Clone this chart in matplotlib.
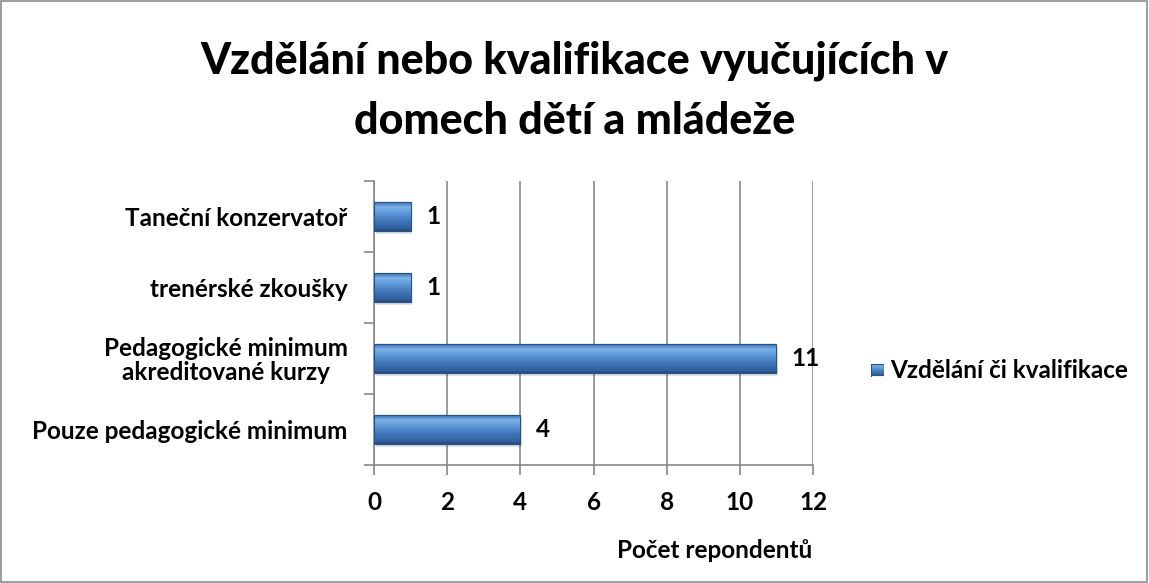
import numpy as np
import matplotlib
matplotlib.use("Agg")
import matplotlib.pyplot as plt
from matplotlib.colors import LinearSegmentedColormap
from matplotlib.patches import Rectangle

categories = ["Pouze pedagogické minimum", "Pedagogické minimum\nakreditované kurzy",
              "trenérské zkoušky", "Taneční konzervatoř"]
values = [4, 11, 1, 1]
series_name = "Vzdělání či kvalifikace"
title = "Vzdělání nebo kvalifikace vyučujících v\ndomech dětí a mládeže"
xlabel = "Počet repondentů"
xticks = [0, 2, 4, 6, 8, 10, 12]

plt.rcParams['font.family'] = ['Lato', 'DejaVu Sans']
plt.rcParams['font.weight'] = 'bold'

FS = 17.5

fig = plt.figure(figsize=(11.49, 5.83), dpi=100)
fig.patches.append(Rectangle((0.0005, 0.001), 0.998, 0.997, transform=fig.transFigure,
                             fill=False, edgecolor='#8c8c8c', linewidth=1.2))

ax = fig.add_axes([374/1149, 1-465/583, (813-374)/1149, (465-181)/583])

cmap = LinearSegmentedColormap.from_list("bev", [
    (0.0, "#22497a"), (0.08, "#2f5f9c"), (0.35, "#3f77bb"), (0.6, "#5e98d8"),
    (0.8, "#7cb1e8"), (0.9, "#5189ca"), (1.0, "#3a67a3")])

y = np.arange(len(categories))
bars = ax.barh(y, values, height=0.41, color="#4a7fc1", edgecolor="#2a5287",
               linewidth=0.8, zorder=3)
grad = np.linspace(0, 1, 256).reshape(-1, 1)
for b in bars:
    x0, y0 = b.get_x(), b.get_y()
    w, h = b.get_width(), b.get_height()
    ax.add_patch(Rectangle((x0 + 0.05, y0 - 0.04), w, h, facecolor='#000000', alpha=0.12,
                           edgecolor='none', zorder=2))
    im = ax.imshow(grad, cmap=cmap, aspect='auto', extent=(x0, x0 + w, y0, y0 + h),
                   origin='lower', zorder=3.5, interpolation='bilinear')
    im.set_clip_path(b)
    ax.add_patch(Rectangle((x0, y0), w, h, fill=False, edgecolor='#2a5287',
                           linewidth=0.8, zorder=4))

for yi, v in zip(y, values):
    ax.text(v + 0.42, yi, str(v), va='center', ha='left', fontsize=FS,
            fontweight='bold', color='black', zorder=5)

ax.set_xlim(0, 12)
ax.set_ylim(-0.5, len(categories) - 0.5)
ax.set_xticks(xticks)
ax.set_xticklabels([str(t) for t in xticks], fontsize=FS, fontweight='bold')
ax.set_yticks(y)
ax.set_yticklabels(categories, fontsize=FS, fontweight='bold', multialignment='center',
                   linespacing=1.05)
ax.set_yticks(np.arange(-0.5, len(categories)), minor=True)
ax.tick_params(axis='y', which='major', length=0, pad=19)
ax.tick_params(axis='y', which='minor', length=7, color='#878787', width=1.2)
ax.tick_params(axis='x', which='major', length=7, color='#878787', width=1.2, pad=12)
ax.grid(axis='x', color='#8a8a8a', linewidth=1.2, zorder=0)
ax.set_axisbelow(True)
for s in ['top', 'right']:
    ax.spines[s].set_visible(False)
for s in ['left', 'bottom']:
    ax.spines[s].set_color('#878787')
    ax.spines[s].set_linewidth(1.2)

fig.text(0.5, 1 - 91/583, title, ha='center', va='center', fontsize=31,
         fontweight='black', linespacing=1.6)
fig.text(715/1149, 1 - 550/583, xlabel, ha='center', va='center', fontsize=FS,
         fontweight='bold')

# legend
lx, ly = 871/1149, 1 - 370/583
sq = 13/1149
ax_leg = fig.add_axes([lx, ly - 6.5/583, sq, 13/583])
ax_leg.imshow(grad, cmap=cmap, aspect='auto', extent=(0, 1, 0, 1), origin='lower')
ax_leg.add_patch(Rectangle((0, 0), 1, 1, fill=False, edgecolor='#2a5287', linewidth=0.8))
ax_leg.set_xlim(0, 1); ax_leg.set_ylim(0, 1)
ax_leg.axis('off')
fig.text(lx + 19/1149, ly, series_name, ha='left', va='center', fontsize=FS,
         fontweight='bold')

fig.savefig("out.png", dpi=100)
